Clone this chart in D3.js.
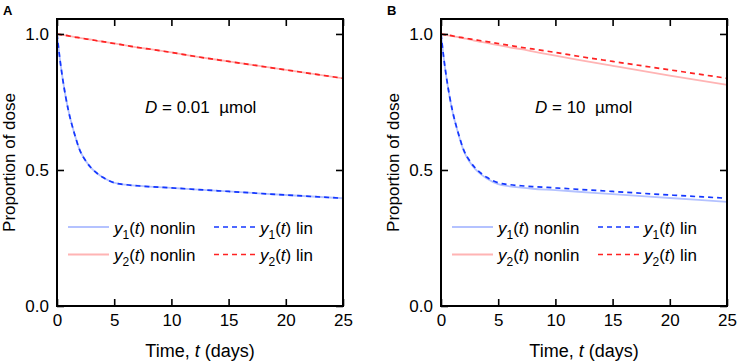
<!DOCTYPE html>
<html>
<head>
<meta charset="utf-8">
<script src="https://cdn.jsdelivr.net/npm/d3@7"></script>
<style>
  body { margin: 0; background: #fff; }
  svg { font-family: "Liberation Sans", Arial, sans-serif; }
</style>
</head>
<body>
<svg id="chart" width="737" height="361"></svg>
<script>
// time points (days)
const times = [0, 0.25, 0.5, 0.75, 1, 1.5, 2, 2.5, 3, 3.5, 4, 5, 6, 7, 8, 10, 12, 15, 20, 25];

// panel A, D = 0.01 umol
const y1LinA    = [1.000, 0.909, 0.834, 0.771, 0.718, 0.637, 0.572, 0.534, 0.507, 0.488, 0.473, 0.453, 0.446, 0.442, 0.439, 0.434, 0.429, 0.421, 0.408, 0.396];
const y1NonlinA = [1.000, 0.909, 0.834, 0.771, 0.718, 0.637, 0.572, 0.534, 0.507, 0.488, 0.473, 0.453, 0.446, 0.442, 0.439, 0.434, 0.429, 0.421, 0.408, 0.396];
const y2LinA    = [1.000, 0.998, 0.996, 0.995, 0.993, 0.989, 0.986, 0.982, 0.979, 0.975, 0.972, 0.965, 0.958, 0.951, 0.945, 0.932, 0.918, 0.899, 0.868, 0.837];
const y2NonlinA = [1.000, 0.998, 0.996, 0.995, 0.993, 0.989, 0.986, 0.982, 0.979, 0.975, 0.972, 0.965, 0.958, 0.951, 0.945, 0.932, 0.918, 0.899, 0.868, 0.837];

// panel B, D = 10 umol
const y1LinB    = [1.000, 0.909, 0.834, 0.771, 0.718, 0.637, 0.572, 0.534, 0.507, 0.488, 0.473, 0.453, 0.446, 0.442, 0.439, 0.434, 0.429, 0.421, 0.408, 0.396];
const y1NonlinB = [1.000, 0.908, 0.832, 0.769, 0.716, 0.635, 0.569, 0.530, 0.503, 0.484, 0.469, 0.448, 0.440, 0.435, 0.431, 0.426, 0.420, 0.411, 0.397, 0.383];
const y2LinB    = [1.000, 0.998, 0.996, 0.995, 0.993, 0.989, 0.986, 0.982, 0.979, 0.975, 0.972, 0.965, 0.958, 0.951, 0.945, 0.932, 0.918, 0.899, 0.868, 0.837];
const y2NonlinB = [1.000, 0.998, 0.996, 0.994, 0.992, 0.988, 0.984, 0.980, 0.975, 0.971, 0.967, 0.959, 0.951, 0.944, 0.936, 0.920, 0.905, 0.883, 0.847, 0.813];

const xTicks = [0, 5, 10, 15, 20, 25];
const yTicks = [0, 0.5, 1];

const panels = [
  { letter: "A", left: 57, dose: "0.01", y1Lin: y1LinA, y1Nonlin: y1NonlinA, y2Lin: y2LinA, y2Nonlin: y2NonlinA },
  { letter: "B", left: 441, dose: "10", y1Lin: y1LinB, y1Nonlin: y1NonlinB, y2Lin: y2LinB, y2Nonlin: y2NonlinB }
];

const colors = {
  y1Nonlin: "#b4c2ff",
  y2Nonlin: "#ffb4b4",
  y1Lin: "#1437ff",
  y2Lin: "#ff2222"
};

const svg = d3.select("#chart");
const plotW = 286, plotTop = 19, plotBottom = 306;
const fontSize = 17;

panels.forEach(p => {
  let x = d3.scaleLinear().domain([0, 25]).range([p.left, p.left + plotW]);
  let y = d3.scaleLinear().domain([0, 1.055]).range([plotBottom, plotTop]);
  let g = svg.append("g");

  let line = arr => d3.line()
    .x((d, i) => x(times[i]))
    .y(d => y(d))
    .curve(d3.curveMonotoneX)(arr);

  // nonlinear (solid, light) first, linear (dashed) on top
  g.append("path").attr("d", line(p.y2Nonlin)).attr("fill", "none")
    .attr("stroke", colors.y2Nonlin).attr("stroke-width", 1.8);
  g.append("path").attr("d", line(p.y1Nonlin)).attr("fill", "none")
    .attr("stroke", colors.y1Nonlin).attr("stroke-width", 1.8);
  g.append("path").attr("d", line(p.y2Lin)).attr("fill", "none")
    .attr("stroke", colors.y2Lin).attr("stroke-width", 1.7).attr("stroke-dasharray", "5,4");
  g.append("path").attr("d", line(p.y1Lin)).attr("fill", "none")
    .attr("stroke", colors.y1Lin).attr("stroke-width", 1.7).attr("stroke-dasharray", "5,4");

  // inward ticks on all four sides
  let tickLen = 7;
  g.append("g").attr("transform", `translate(0,${plotBottom})`)
    .call(d3.axisBottom(x).tickValues(xTicks).tickSize(-tickLen).tickPadding(8).tickFormat(d3.format("d")))
    .call(a => a.select(".domain").remove());
  g.append("g").attr("transform", `translate(0,${plotTop})`)
    .call(d3.axisTop(x).tickValues(xTicks).tickSize(-tickLen).tickFormat(""))
    .call(a => a.select(".domain").remove());
  g.append("g").attr("transform", `translate(${p.left},0)`)
    .call(d3.axisLeft(y).tickValues(yTicks).tickSize(-tickLen).tickPadding(8).tickFormat(d3.format(".1f")))
    .call(a => a.select(".domain").remove());
  g.append("g").attr("transform", `translate(${p.left + plotW},0)`)
    .call(d3.axisRight(y).tickValues(yTicks).tickSize(-tickLen).tickFormat(""))
    .call(a => a.select(".domain").remove());

  g.selectAll(".tick line").attr("stroke", "#000").attr("stroke-width", 1.6);
  g.selectAll(".tick text").attr("font-size", fontSize).attr("fill", "#000")
    .attr("font-family", "Liberation Sans, Arial, sans-serif");

  // box
  g.append("rect")
    .attr("x", p.left).attr("y", plotTop)
    .attr("width", plotW).attr("height", plotBottom - plotTop)
    .attr("fill", "none").attr("stroke", "#000").attr("stroke-width", 2);

  // panel letter
  g.append("text").attr("x", p.left - 54).attr("y", 15)
    .attr("font-size", 13).attr("font-weight", "bold").text(p.letter);

  // axis titles
  let xt = g.append("text").attr("x", p.left + plotW / 2).attr("y", 357)
    .attr("text-anchor", "middle").attr("font-size", 18);
  xt.append("tspan").text("Time, ");
  xt.append("tspan").attr("font-style", "italic").text("t");
  xt.append("tspan").text(" (days)");

  g.append("text")
    .attr("transform", `translate(${p.left - 42},${(plotTop + plotBottom) / 2}) rotate(-90)`)
    .attr("text-anchor", "middle").attr("font-size", fontSize)
    .text("Proportion of dose");

  // dose annotation
  let ann = g.append("text").attr("x", p.left + (p.letter === "A" ? 88 : 94)).attr("y", 113)
    .attr("font-size", fontSize);
  ann.append("tspan").attr("font-style", "italic").text("D");
  ann.append("tspan").text(" = " + p.dose + "\u00a0\u00a0\u00b5mol");

  // legend
  let legendItems = [
    { key: "y1Nonlin", sub: "1", label: " nonlin", dash: null, col: 0, row: 0 },
    { key: "y1Lin", sub: "1", label: " lin", dash: "5,4", col: 1, row: 0 },
    { key: "y2Nonlin", sub: "2", label: " nonlin", dash: null, col: 0, row: 1 },
    { key: "y2Lin", sub: "2", label: " lin", dash: "5,4", col: 1, row: 1 }
  ];
  legendItems.forEach(it => {
    let lx = p.left + 11 + it.col * 146;
    let ly = 227 + it.row * 27.5;
    g.append("line").attr("x1", lx).attr("x2", lx + 41).attr("y1", ly).attr("y2", ly)
      .attr("stroke", colors[it.key]).attr("stroke-width", it.dash ? 1.7 : 1.8)
      .attr("stroke-dasharray", it.dash);
    let t = g.append("text").attr("x", lx + 46).attr("y", ly + 6.5).attr("font-size", fontSize);
    t.append("tspan").attr("font-style", "italic").text("y");
    t.append("tspan").attr("font-size", 12).attr("dy", 5).text(it.sub);
    t.append("tspan").attr("dy", -5).text("(");
    t.append("tspan").attr("font-style", "italic").text("t");
    t.append("tspan").text(")" + it.label);
  });
});
</script>
</body>
</html>
